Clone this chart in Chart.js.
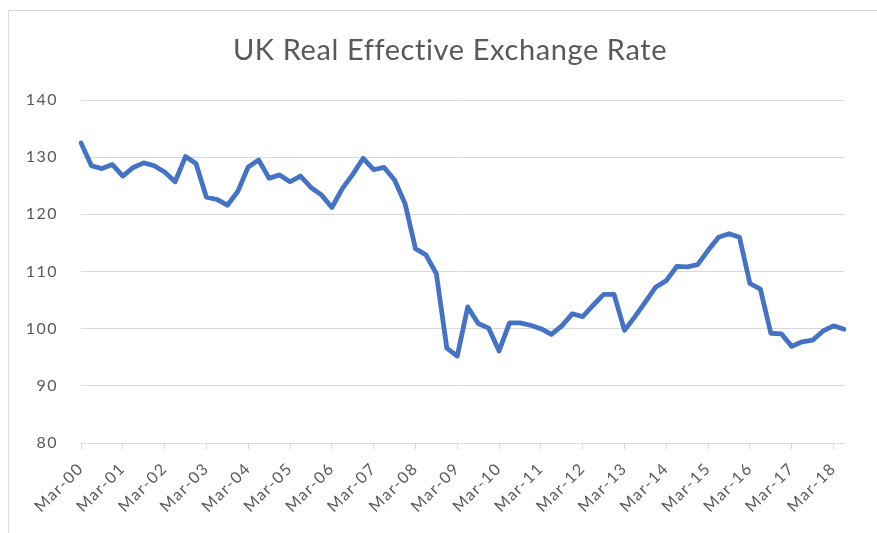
<!DOCTYPE html>
<html lang="en">
<head>
  <meta charset="UTF-8" />
  <title>UK Real Effective Exchange Rate</title>
  <script src="https://cdn.jsdelivr.net/npm/chart.js"></script>
  <style>
    html, body {
      margin: 0;
      padding: 0;
      background: #ffffff;
      overflow: hidden;
    }
    .frame {
      position: absolute;
      left: 8px;
      top: 10px;
      width: 900px;
      height: 600px;
      border: 1px solid #d9d9d9;
    }
    .chart-box {
      position: absolute;
      left: 0;
      top: 0;
      width: 877px;
      height: 533px;
    }
  </style>
</head>
<body>
  <div class="frame"></div>
  <div class="chart-box">
    <canvas id="reerChart"></canvas>
  </div>

  <script>
    // quarterly index, Mar-00 .. Jun-18
    const quarterNames = ["Mar", "Jun", "Sep", "Dec"];
    const years = ["00", "01", "02", "03", "04", "05", "06", "07", "08", "09",
                   "10", "11", "12", "13", "14", "15", "16", "17", "18"];
    const reer = [
      132.5, 128.5, 128.0, 128.7, 126.7, 128.2, 129.0, 128.5, 127.4, 125.7,
      130.1, 128.9, 123.0, 122.6, 121.6, 124.0, 128.3, 129.5, 126.3, 126.9,
      125.7, 126.7, 124.7, 123.4, 121.2, 124.5, 127.0, 129.8, 127.8, 128.2,
      126.0, 121.9, 114.0, 112.9, 109.6, 96.6, 95.2, 103.8, 100.9, 100.1,
      96.1, 101.0, 101.0, 100.6, 100.0, 99.0, 100.5, 102.6, 102.1, 104.1,
      106.0, 106.0, 99.7, 102.1, 104.7, 107.3, 108.4, 110.9, 110.8, 111.2,
      113.7, 116.0, 116.6, 116.0, 107.9, 106.9, 99.2, 99.1, 96.9, 97.7,
      98.0, 99.6, 100.5, 99.9
    ];
    const yTicks = [80, 90, 100, 110, 120, 130, 140];
    const titleText = "UK Real Effective Exchange Rate";

    const labels = [];
    years.forEach(y => quarterNames.forEach(q => labels.push(q + "-" + y)));
    labels.length = reer.length;

    const grey = "#595959";
    const gridGrey = "#d9d9d9";

    // wider letter spacing on the axis text, and a title centred on the whole frame
    const textStyle = {
      id: "textStyle",
      beforeUpdate(chart) { chart.ctx.letterSpacing = "1.5px"; },
      beforeDraw(chart) { chart.ctx.letterSpacing = "1.5px"; },
      afterDraw(chart) {
        const ctx = chart.ctx;
        ctx.save();
        ctx.letterSpacing = "0.6px";
        ctx.font = "29px Lato";
        ctx.fillStyle = grey;
        ctx.textAlign = "center";
        ctx.textBaseline = "alphabetic";
        ctx.fillText(titleText, 450, 60);
        ctx.restore();
      }
    };

    new Chart(document.getElementById("reerChart"), {
      type: "line",
      data: {
        labels: labels,
        datasets: [{
          label: "REER",
          data: reer,
          borderColor: "#4472c4",
          borderWidth: 4.8,
          borderJoinStyle: "round",
          borderCapStyle: "round",
          pointRadius: 0,
          tension: 0,
          fill: false
        }]
      },
      options: {
        responsive: true,
        maintainAspectRatio: false,
        animation: false,
        layout: { padding: { left: 0, right: 33, top: 100, bottom: 0 } },
        plugins: {
          legend: { display: false },
          tooltip: { enabled: false },
          title: { display: false }
        },
        scales: {
          x: {
            offset: false,
            afterBuildTicks: scale => {
              scale.ticks = scale.ticks.filter(t => labels[t.value].startsWith("Mar"));
            },
            afterFit: scale => { scale.height = 90; },
            grid: {
              drawOnChartArea: false,
              drawTicks: true,
              tickLength: 6,
              color: gridGrey
            },
            border: { display: true, color: gridGrey },
            ticks: {
              autoSkip: false,
              maxRotation: 45,
              minRotation: 45,
              padding: 10,
              color: grey,
              font: { family: "Lato", size: 16 }
            }
          },
          y: {
            min: 80,
            max: 140,
            afterBuildTicks: scale => {
              scale.ticks = yTicks.map(v => ({ value: v }));
            },
            afterFit: scale => { scale.width = 81; },
            grid: { color: gridGrey, drawTicks: false },
            border: { display: false },
            ticks: {
              padding: 23,
              color: grey,
              font: { family: "Lato", size: 16 }
            }
          }
        }
      },
      plugins: [textStyle]
    });
  </script>
</body>
</html>
